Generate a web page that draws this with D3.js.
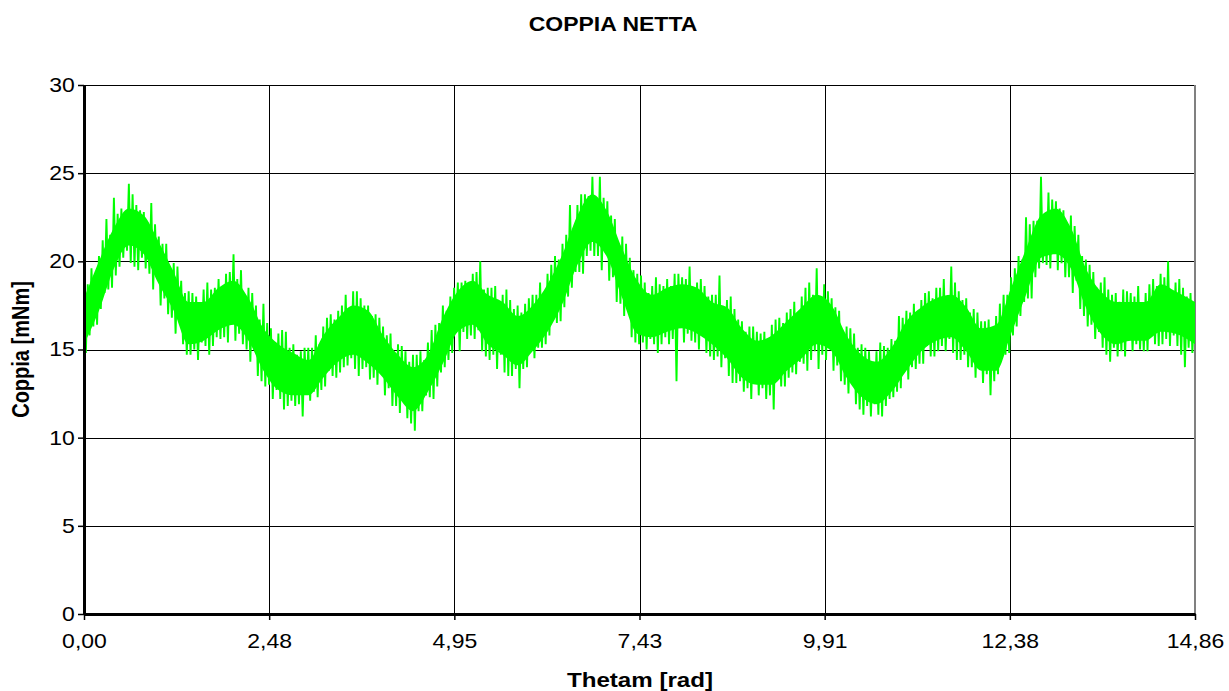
<!DOCTYPE html>
<html><head><meta charset="utf-8">
<script src="https://cdn.jsdelivr.net/npm/d3@7"></script>
<style>body{margin:0;background:#fff}svg{display:block}</style>
</head><body>
<svg id="chart" width="1229" height="691"></svg>
<script>
// ---- data ----
const chartTitle = "COPPIA NETTA";
const xAxisTitle = "Thetam [rad]";
const yAxisTitle = "Coppia [mNm]";
const xTickValues = [0, 2.4767, 4.9533, 7.43, 9.9067, 12.3833, 14.86];
const xTickLabels = ["0,00", "2,48", "4,95", "7,43", "9,91", "12,38", "14,86"];
const yTickValues = [0, 5, 10, 15, 20, 25, 30];
const yTickLabels = ["0", "5", "10", "15", "20", "25", "30"];

// dense core of the signal
const bandTheta = [0,0.2,0.4,0.6,0.8,1.0,1.2,1.4,1.6,1.8,2.0,2.2,2.4,2.6,2.8,3.0,3.2,3.4,3.6,3.8,4.0,4.2,4.4,4.6,4.8,5.0,5.2,5.4,5.6,5.8,6.0,6.2,6.4,6.6,6.8,7.0,7.2,7.4,7.6,7.8,8.0,8.2,8.4,8.6,8.8,9.0,9.2,9.4,9.6,9.8,10.0,10.2,10.4,10.6,10.8,11.0,11.2,11.4,11.6,11.8,12.0,12.2,12.4,12.6,12.8,13.0,13.2,13.4,13.6,13.8,14.0,14.2,14.4,14.6,14.86];
const bandLow = [15.3,17.2,19.6,20.9,20.4,18.7,17.2,15.3,15.5,16.1,16.4,15.5,13.8,12.7,12.4,12.4,13.4,14.3,14.7,14.2,13.4,12.3,11.5,12.6,14.2,16.0,16.4,15.3,14.7,14.1,14.9,16.0,17.6,19.8,21.1,20.2,17.9,15.9,15.7,16.0,16.2,15.9,15.3,14.5,13.4,13.0,13.0,13.8,14.5,15.3,14.9,13.4,12.3,11.9,12.6,13.8,14.9,15.5,15.7,14.9,13.8,13.8,15.9,18.1,20.2,20.4,19.6,17.4,15.9,15.3,15.5,15.5,16.0,15.9,15.3];
const bandHigh = [17.9,20.0,21.9,23.0,22.6,21.1,19.4,17.7,17.7,18.5,18.9,17.9,16.2,15.3,14.8,14.4,15.8,16.8,17.5,17.2,15.8,14.7,14.0,14.7,16.8,18.3,18.9,18.1,17.7,16.9,17.5,18.7,20.4,22.6,23.8,22.8,20.7,18.9,18.1,18.5,18.7,18.5,17.7,17.4,16.2,15.5,15.8,16.6,17.4,18.1,17.5,15.8,14.7,14.3,15.1,16.6,17.4,17.9,18.1,17.4,16.2,16.4,18.5,20.7,22.6,23.0,21.9,19.6,18.3,17.7,17.7,17.7,18.7,18.3,17.7];

// noisy trace, one value every 0.025 rad
const noiseStep = 0.025;
const noiseValues = [
18.4,14.8,18.7,15.8,19.6,16.3,19.3,16.4, 20.3,17.3,21.2,18.2,22.4,18.4,21.5,18.5,
23.6,19.2,22.7,19.7,23.0,20.2,22.6,20.6, 24.4,19.9,23.8,19.7,23.2,19.5,22.9,20.2,
22.8,19.6,22.2,19.3,23.3,18.4,22.1,19.1, 21.4,17.5,21.0,17.9,21.0,17.0,19.6,16.8,
19.9,15.9,19.7,16.6,18.9,15.3,18.2,14.7, 18.3,14.7,18.2,15.0,18.0,14.4,17.6,15.4,
18.4,15.2,18.8,14.7,18.4,15.2,18.5,15.7, 19.0,15.6,18.6,15.7,19.3,15.4,19.4,16.6,
20.4,15.5,19.0,15.9,19.5,15.3,18.0,15.0, 18.5,14.3,18.2,15.0,17.5,13.5,16.7,13.2,
17.6,12.9,16.5,13.0,16.2,12.2,15.4,12.7, 15.9,12.2,16.1,11.6,16.0,11.8,15.1,12.1,
15.3,11.8,14.7,11.9,14.9,11.2,15.1,12.6, 15.1,12.1,15.1,12.6,15.8,12.3,15.3,12.7,
16.3,12.9,16.8,13.8,17.0,13.5,16.7,13.4, 17.2,13.7,17.5,14.0,18.1,14.1,17.2,14.5,
18.3,13.9,18.3,13.5,17.9,13.9,17.5,14.0, 17.5,13.3,16.9,13.4,17.0,13.0,16.8,13.7,
16.3,12.4,15.8,12.8,15.9,11.8,14.8,11.8, 15.3,11.4,15.2,12.1,14.9,11.1,14.3,10.8,
14.7,10.4,14.7,11.5,14.9,11.5,14.4,12.4, 15.4,12.3,16.1,12.2,16.4,12.9,16.5,13.7,
17.5,14.0,17.2,14.4,18.0,14.8,18.5,16.0, 18.8,14.9,18.8,16.0,18.9,15.6,18.6,15.8,
19.3,15.6,19.4,16.1,20.0,14.9,18.4,14.6, 18.5,14.4,18.5,14.7,18.6,13.9,17.7,14.7,
18.1,13.7,18.4,13.5,17.8,13.5,17.3,13.9, 17.5,12.8,17.1,13.9,17.6,14.0,17.9,15.0,
18.1,14.5,18.1,15.1,18.8,15.1,18.2,15.3, 19.3,15.8,19.8,16.7,20.3,16.5,20.1,16.6,
21.0,17.4,21.5,18.0,23.2,18.5,21.9,19.4, 23.2,19.4,23.8,19.3,23.8,20.3,23.7,20.6,
24.8,20.3,23.5,20.3,24.8,19.5,23.6,20.5, 23.4,18.9,22.6,19.1,22.4,17.7,21.0,17.6,
21.4,16.9,21.0,17.2,20.2,15.7,19.5,15.4, 19.3,15.3,19.2,15.4,18.8,15.0,18.2,15.6,
18.6,15.3,19.1,14.8,18.7,15.3,18.6,15.7, 19.0,15.3,18.6,15.6,19.3,13.2,19.3,16.4,
19.1,15.4,19.0,15.9,19.7,15.5,18.4,15.4, 18.8,15.0,19.0,15.8,18.6,14.8,18.0,14.6,
18.1,14.4,18.1,14.6,19.2,14.0,17.4,14.5, 17.8,13.5,18.0,13.1,17.3,13.1,16.7,13.2,
16.6,12.6,16.0,12.8,16.3,12.2,16.3,13.2, 16.0,12.4,15.9,12.8,16.0,12.2,15.5,12.4,
16.4,11.6,16.7,13.4,16.8,12.9,16.5,12.9, 17.1,13.4,17.3,13.7,17.7,13.6,17.1,14.3,
18.0,14.2,18.5,13.8,18.8,14.4,18.1,14.9, 19.6,13.9,18.0,14.7,18.7,14.4,18.3,15.2,
17.9,13.8,17.4,14.1,17.2,13.2,16.0,13.0, 16.3,12.5,16.2,13.1,15.9,11.9,15.1,11.6,
15.3,11.3,15.1,11.8,14.9,11.2,14.3,11.9, 14.9,11.3,15.4,11.2,15.2,11.8,15.1,12.2,
15.6,12.3,15.5,12.6,16.9,12.8,16.8,13.9, 17.2,13.3,17.1,14.0,17.6,13.9,17.0,14.2,
17.8,14.2,18.2,15.2,18.3,14.6,17.9,14.6, 18.5,14.9,18.5,15.2,19.0,14.9,18.0,15.6,
19.7,14.8,18.8,14.4,18.3,14.4,17.8,14.7, 17.9,14.0,17.1,14.0,17.3,13.4,17.1,14.1,
16.6,13.1,16.6,13.6,16.7,12.4,16.2,13.2, 16.9,13.6,17.6,14.7,18.1,14.7,18.1,14.8,
19.1,15.8,19.6,16.3,20.3,16.9,20.1,17.7, 22.5,17.9,22.1,17.9,22.3,19.1,22.3,19.6,
24.8,19.9,22.7,19.8,23.9,19.6,23.5,20.6, 23.4,19.5,23.0,19.9,22.9,19.1,22.0,19.1,
22.6,18.2,22.0,18.9,21.5,17.3,20.3,16.9, 20.1,16.3,19.8,16.4,19.4,15.6,18.5,16.0,
18.8,15.1,19.1,14.7,18.4,14.3,18.1,15.1, 18.2,14.6,17.7,14.9,18.4,14.6,18.3,15.7,
18.2,14.9,18.0,15.3,18.6,15.0,17.5,14.9, 18.2,14.9,18.7,15.8,19.0,15.3,18.6,15.2,
19.3,15.3,19.1,15.6,20.0,15.2,18.3,15.8, 18.8,15.2,19.0,14.7,18.5,14.0,18.0,15.1,
18.2,14.8,17.6
];

// ---- drawing ----
const plot = {left: 84, right: 1195, top: 85, bottom: 614};
const FONT = "'Liberation Sans', Arial, Helvetica, sans-serif";
const STRETCH = 1.15; // horizontal text stretch seen in the reference
const svg = d3.select("#chart");

const x = d3.scaleLinear().domain([0, 14.86]).range([plot.left, plot.right]);
const y = d3.scaleLinear().domain([0, 30]).range([plot.bottom, plot.top]);

// gridlines
svg.append("g").selectAll("line").data(yTickValues.filter(v => v > 0)).join("line")
  .attr("x1", plot.left).attr("x2", plot.right)
  .attr("y1", d => Math.round(y(d)) + 0.5).attr("y2", d => Math.round(y(d)) + 0.5)
  .attr("stroke", "#000").attr("stroke-width", 1);
svg.append("g").selectAll("line").data(xTickValues.slice(1, -1)).join("line")
  .attr("y1", plot.top).attr("y2", plot.bottom)
  .attr("x1", d => Math.round(x(d)) + 0.5).attr("x2", d => Math.round(x(d)) + 0.5)
  .attr("stroke", "#000").attr("stroke-width", 1);
svg.append("line")
  .attr("x1", plot.right).attr("x2", plot.right).attr("y1", plot.top).attr("y2", plot.bottom)
  .attr("stroke", "#808080").attr("stroke-width", 2);

// data
svg.append("clipPath").attr("id", "clip").append("rect")
  .attr("x", plot.left).attr("y", plot.top).attr("width", plot.right - plot.left).attr("height", plot.bottom - plot.top);
const gData = svg.append("g").attr("clip-path", "url(#clip)");
const band = bandTheta.map((t, i) => ({t, lo: bandLow[i], hi: bandHigh[i]}));
gData.append("path").datum(band)
  .attr("fill", "#00ff00")
  .attr("d", d3.area().x(d => x(d.t)).y0(d => y(d.lo)).y1(d => y(d.hi)).curve(d3.curveMonotoneX));
const noise = noiseValues.map((v, i) => ({t: i * noiseStep, v}));
gData.append("path").datum(noise)
  .attr("fill", "none").attr("stroke", "#00ff00").attr("stroke-width", 1.9)
  .attr("d", d3.line().x(d => x(d.t)).y(d => y(d.v)));

// axes
const yAxis = d3.axisLeft(y).tickValues(yTickValues).tickFormat((d, i) => yTickLabels[i])
  .tickSizeInner(6).tickSizeOuter(0).tickPadding(2);
const gy = svg.append("g").attr("transform", `translate(${plot.left},0)`).call(yAxis);
const xAxis = d3.axisBottom(x).tickValues(xTickValues).tickFormat((d, i) => xTickLabels[i])
  .tickSizeInner(6).tickSizeOuter(0).tickPadding(14);
const gx = svg.append("g").attr("transform", `translate(0,${plot.bottom})`).call(xAxis);
[gx, gy].forEach(g => {
  g.select(".domain").attr("stroke", "#000").attr("stroke-width", 3);
  g.selectAll(".tick line").attr("stroke", "#000").attr("stroke-width", 1.5);
  g.selectAll(".tick text").attr("fill", "#000")
    .attr("transform", `scale(${STRETCH},1)`)
    .style("font-family", FONT).style("font-size", "20px");
});

// titles
function stretchedText(tx, ty, rot, str, size) {
  svg.append("text")
    .attr("transform", `translate(${tx},${ty}) scale(${STRETCH},1)` + (rot ? ` rotate(${rot})` : ""))
    .attr("text-anchor", "middle")
    .style("font-family", FONT).style("font-size", size + "px").style("font-weight", "bold")
    .attr("fill", "#000").text(str);
}
stretchedText(613, 31, 0, chartTitle, 20);
stretchedText(640, 687, 0, xAxisTitle, 21);
stretchedText(29, (plot.top + plot.bottom) / 2, -90, yAxisTitle, 20);
</script>
</body></html>
